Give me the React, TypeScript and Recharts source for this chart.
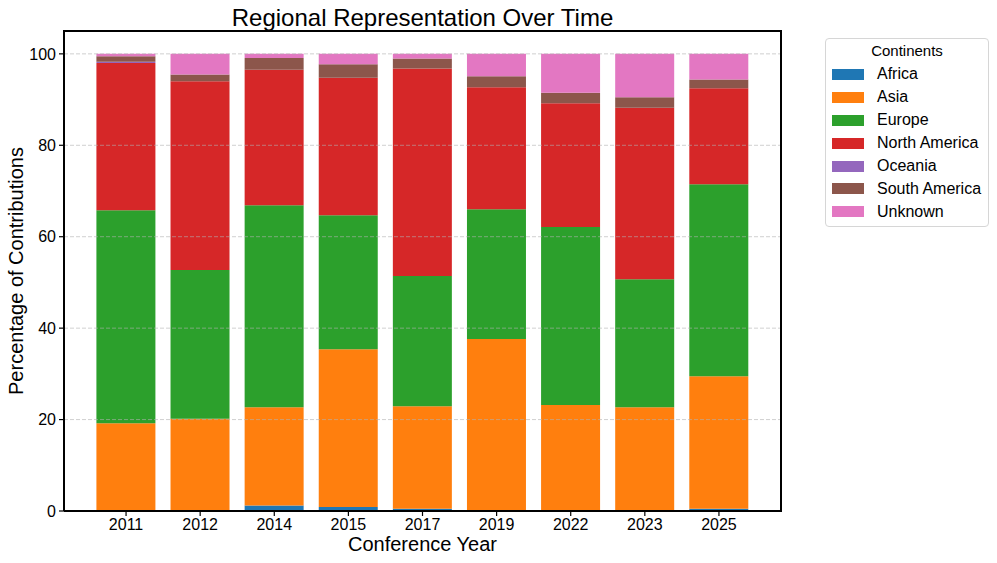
import React from 'react';
import { BarChart, Bar, XAxis, YAxis, ReferenceLine } from 'recharts';

const YEARS = ['2011', '2012', '2014', '2015', '2017', '2019', '2022', '2023', '2025'];

const AFRICA = [0, 0.2, 1.2, 0.9, 0.5, 0, 0, 0, 0.5];
const ASIA = [19.2, 20.0, 21.5, 34.5, 22.4, 37.6, 23.2, 22.7, 29.0];
const EUROPE = [46.6, 32.5, 44.2, 29.3, 28.5, 28.4, 38.9, 28.0, 42.0];
const NORTH_AMERICA = [32.2, 41.3, 29.6, 30.1, 45.4, 26.7, 27.1, 37.5, 21.0];
const OCEANIA = [0.3, 0, 0, 0, 0, 0, 0, 0, 0];
const SOUTH_AMERICA = [1.2, 1.5, 2.6, 2.9, 2.2, 2.4, 2.3, 2.3, 1.9];
const UNKNOWN = [0.5, 4.5, 0.9, 2.3, 1.0, 4.9, 8.5, 9.5, 5.6];

const Y_TICKS = [0, 20, 40, 60, 80, 100];
const GRID_LINES = [20, 40, 60, 80, 100];

const SERIES = [
    { key: 'Africa', values: AFRICA, color: '#1f77b4' },
    { key: 'Asia', values: ASIA, color: '#ff7f0e' },
    { key: 'Europe', values: EUROPE, color: '#2ca02c' },
    { key: 'North America', values: NORTH_AMERICA, color: '#d62728' },
    { key: 'Oceania', values: OCEANIA, color: '#9467bd' },
    { key: 'South America', values: SOUTH_AMERICA, color: '#8c564b' },
    { key: 'Unknown', values: UNKNOWN, color: '#e377c2' },
];

const data = YEARS.map((year, i) => {
    const row: Record<string, string | number> = { year };
    SERIES.forEach(s => { row[s.key] = s.values[i]; });
    return row;
});

const FONT = '"Liberation Sans", Arial, sans-serif';

function LegendBox() {
    return (
        <div style={{
            position: 'absolute', left: 825, top: 38,
            width: 164, height: 189, boxSizing: 'border-box', border: '1px solid #d6d6d6', borderRadius: 4,
            background: '#fff', fontFamily: FONT, color: '#000', padding: '3px 0 0 6px',
        }}>
            <div style={{ fontSize: 15, textAlign: 'center', lineHeight: '18px', marginLeft: -6, marginBottom: 3 }}>Continents</div>
            {SERIES.map(s => (
                <div key={s.key} style={{ display: 'flex', alignItems: 'center', height: 22.9 }}>
                    <span style={{ width: 32, height: 11, background: s.color, display: 'inline-block' }} />
                    <span style={{ fontSize: 16, marginLeft: 13 }}>{s.key}</span>
                </div>
            ))}
        </div>
    );
}

export default function App() {
    return (
        <div style={{ position: 'absolute', left: 0, top: 0, width: 997, height: 563, background: '#fff', fontFamily: FONT }}>
            <div style={{ position: 'absolute', left: 64, width: 717, top: 4, textAlign: 'center', fontSize: 24, lineHeight: '28px' }}>
                Regional Representation Over Time
            </div>
            <div style={{ position: 'absolute', left: 64, width: 717, top: 532, textAlign: 'center', fontSize: 20, lineHeight: '24px' }}>
                Conference Year
            </div>
            <div style={{
                position: 'absolute', left: 16, top: 271, width: 400, textAlign: 'center', fontSize: 20, lineHeight: '24px',
                transform: 'translate(-50%, -50%) rotate(-90deg)',
            }}>
                Percentage of Contributions
            </div>
            <BarChart
                width={997}
                height={563}
                data={data}
                margin={{ top: 31, right: 216, bottom: 0, left: 0 }}
                barCategoryGap="10%"
                style={{ position: 'absolute', left: 0, top: 0 }}
            >
                <XAxis
                    dataKey="year"
                    height={52}
                    padding={{ left: 25, right: 25 }}
                    tick={{ fontSize: 16, fill: '#000', fontFamily: FONT }}
                    tickSize={5}
                    tickMargin={3}
                    axisLine={{ stroke: '#000', strokeWidth: 2 }}
                    tickLine={{ stroke: '#000', strokeWidth: 1.2 }}
                />
                <YAxis
                    width={64}
                    domain={[0, 105]}
                    ticks={Y_TICKS}
                    allowDataOverflow
                    tick={{ fontSize: 16, fill: '#000', fontFamily: FONT }}
                    tickSize={5}
                    tickMargin={3}
                    axisLine={{ stroke: '#000', strokeWidth: 2 }}
                    tickLine={{ stroke: '#000', strokeWidth: 1.2 }}
                />
                {SERIES.map(s => (
                    <Bar key={s.key} dataKey={s.key} stackId="a" fill={s.color} isAnimationActive={false} />
                ))}
                {GRID_LINES.map(v => (
                    <ReferenceLine key={v} y={v} stroke="#b0b0b0" strokeOpacity={0.6} strokeDasharray="4 2" />
                ))}
            </BarChart>
            {/* top and right spines of the axes frame */}
            <div style={{ position: 'absolute', left: 63, top: 30, width: 717, height: 480, borderTop: '2px solid #000', borderRight: '2px solid #000', pointerEvents: 'none' }} />
            <LegendBox />
        </div>
    );
}
